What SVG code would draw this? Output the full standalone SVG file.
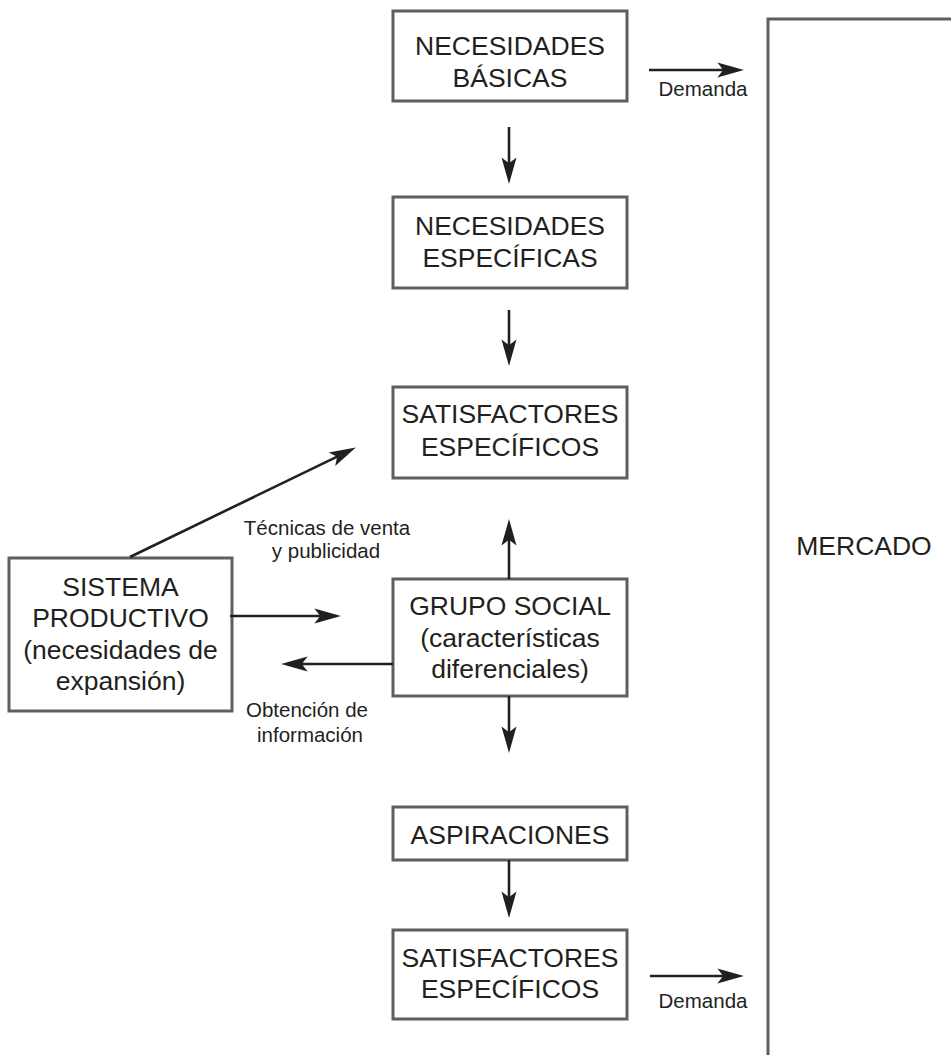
<svg xmlns="http://www.w3.org/2000/svg" width="951" height="1055" viewBox="0 0 951 1055">
<defs>
<style>
.box{fill:#fff;stroke:#5f5f5f;stroke-width:3}
.t{font-family:"Liberation Sans",Arial,sans-serif;font-size:26.5px;fill:#231f20;text-anchor:middle}
.s{font-family:"Liberation Sans",Arial,sans-serif;font-size:20.5px;fill:#231f20;text-anchor:middle}
.c{stroke:#231f20;stroke-width:2.6;fill:none}
</style>
<marker id="ah" markerUnits="userSpaceOnUse" markerWidth="30" markerHeight="20" viewBox="-18 -8 26 16" refX="0" refY="0" orient="auto">
<path d="M6,0 L-17,-6.5 L-12,0 L-17,6.5 Z" fill="#231f20"/>
</marker>
</defs>
<rect width="951" height="1055" fill="#fff"/>
<g id="mercado">
<path d="M768,1055 V19 H951" fill="none" stroke="#5f5f5f" stroke-width="3"/>
<text class="t" x="864" y="555">MERCADO</text>
</g>
<g id="necesidades-basicas">
<rect class="box" x="393" y="11" width="234" height="90"/>
<text class="t" x="510" y="55">NECESIDADES</text>
<text class="t" x="510" y="87">BÁSICAS</text>
</g>
<g id="necesidades-especificas">
<rect class="box" x="393" y="197" width="234" height="91"/>
<text class="t" x="510" y="235">NECESIDADES</text>
<text class="t" x="510" y="267">ESPECÍFICAS</text>
</g>
<g id="satisfactores-1">
<rect class="box" x="393" y="387" width="234" height="91"/>
<text class="t" x="510" y="423">SATISFACTORES</text>
<text class="t" x="510" y="456">ESPECÍFICOS</text>
</g>
<g id="sistema-productivo">
<rect class="box" x="9" y="558" width="223" height="153"/>
<text class="t" x="120.5" y="596">SISTEMA</text>
<text class="t" x="120.5" y="627">PRODUCTIVO</text>
<text class="t" x="120.5" y="659">(necesidades de</text>
<text class="t" x="120.5" y="690">expansión)</text>
</g>
<g id="grupo-social">
<rect class="box" x="393" y="579" width="234" height="117"/>
<text class="t" x="510" y="615">GRUPO SOCIAL</text>
<text class="t" x="510" y="647">(características</text>
<text class="t" x="510" y="678">diferenciales)</text>
</g>
<g id="aspiraciones">
<rect class="box" x="393" y="807" width="234" height="53"/>
<text class="t" x="510" y="844">ASPIRACIONES</text>
</g>
<g id="satisfactores-2">
<rect class="box" x="393" y="930" width="234" height="89"/>
<text class="t" x="510" y="967">SATISFACTORES</text>
<text class="t" x="510" y="998">ESPECÍFICOS</text>
</g>
<g id="connectors">
<line class="c" x1="649" y1="70" x2="737" y2="70" marker-end="url(#ah)"/>
<text class="s" x="703" y="96">Demanda</text>
<line class="c" x1="509" y1="127" x2="509" y2="177" marker-end="url(#ah)"/>
<line class="c" x1="509" y1="310" x2="509" y2="359" marker-end="url(#ah)"/>
<line class="c" x1="130" y1="557" x2="349.6" y2="450.6" marker-end="url(#ah)"/>
<text class="s" x="327" y="535">Técnicas de venta</text>
<text class="s" x="326" y="558">y publicidad</text>
<line class="c" x1="509" y1="579" x2="509" y2="526" marker-end="url(#ah)"/>
<line class="c" x1="230" y1="616" x2="334" y2="616" marker-end="url(#ah)"/>
<line class="c" x1="393" y1="664" x2="288" y2="664" marker-end="url(#ah)"/>
<text class="s" x="307" y="717">Obtención de</text>
<text class="s" x="310" y="742">información</text>
<line class="c" x1="509" y1="696" x2="509" y2="746" marker-end="url(#ah)"/>
<line class="c" x1="509" y1="860" x2="509" y2="911" marker-end="url(#ah)"/>
<line class="c" x1="650" y1="976" x2="737" y2="976" marker-end="url(#ah)"/>
<text class="s" x="703" y="1008">Demanda</text>
</g>
</svg>
